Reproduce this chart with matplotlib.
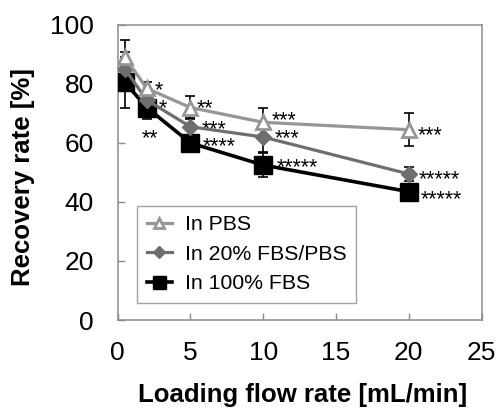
import numpy as np
import matplotlib
matplotlib.use('Agg')
from matplotlib import pyplot as plt

plt.rcParams['font.family'] = ['Liberation Sans', 'DejaVu Sans']

# flow rate [mL/min]
x = [0.5, 2, 5, 10, 20]

pbs = [89, 78.5, 72, 67, 64.5]
pbs_err = [6, 2, 4, 5, 5.5]
fbs20 = [85, 74.5, 65.5, 62, 49.5]
fbs20_err = [6, 3, 3, 5, 2.5]
fbs100 = [80.5, 72, 60, 52.5, 43.5]
fbs100_err = [8.5, 4, 2, 4, 1]

# significance marks: (text, x, y)
stars = [
    ("*", 2.56, 80), ("*", 2.84, 73.9), ("**", 1.67, 63.7),
    ("**", 5.45, 74), ("***", 5.74, 67), ("****", 5.87, 61),
    ("***", 10.6, 70), ("***", 10.76, 63.7), ("*****", 10.9, 54),
    ("***", 20.6, 64.7), ("*****", 20.7, 49.8), ("*****", 20.8, 43),
]

c_pbs = '#969696'
c_20 = '#6e6e6e'
c_100 = 'black'
spine_c = '#8c8c8c'

fig = plt.figure(figsize=[5, 4.09], dpi=100)
ax = fig.add_axes([0.2354, 0.2176, 0.7276, 0.7214])

for t, sx, sy in stars:
    ax.text(sx, sy - 4.2, t, fontsize=15.5, ha='left', va='baseline', zorder=1)

ax.errorbar(x, fbs100, yerr=fbs100_err, fmt='none', ecolor='black',
            elinewidth=1.2, capsize=3.5, capthick=1.2, zorder=2)
ax.errorbar(x, fbs20, yerr=fbs20_err, fmt='none', ecolor='black',
            elinewidth=1.2, capsize=3.5, capthick=1.2, zorder=2)
ax.errorbar(x, pbs, yerr=pbs_err, fmt='none', ecolor='black',
            elinewidth=1.2, capsize=3.5, capthick=1.2, zorder=2)

l100, = ax.plot(x, fbs100, color=c_100, lw=2.6, marker='s', ms=13,
                mfc=c_100, mec=c_100, label='In 100% FBS', zorder=3)
l20, = ax.plot(x, fbs20, color=c_20, lw=2.3, marker='D', ms=7.8,
               mfc=c_20, mec=c_20, label='In 20% FBS/PBS', zorder=4)
lpbs, = ax.plot(x, pbs, color=c_pbs, lw=2.3, marker='^', ms=9.5,
                mfc='white', mec=c_pbs, mew=2, label='In PBS', zorder=5)

ax.set_xlim(0, 25)
ax.set_ylim(0, 100)
ax.set_xticks([0, 5, 10, 15, 20, 25])
ax.set_yticks([0, 20, 40, 60, 80, 100])
ax.tick_params(direction='in', length=5, width=1, color=spine_c,
               labelsize=19)
ax.tick_params(axis='y', pad=17)
ax.tick_params(axis='x', pad=15)
for s in ax.spines.values():
    s.set_color(spine_c)
    s.set_linewidth(1.1)

fig.text(0.046, 1 - 177.5 / 409, 'Recovery rate [%]', rotation=90,
         fontsize=18.5, fontweight='bold', ha='center', va='center')
fig.text(302.5 / 500, 1 - 395 / 409, 'Loading flow rate [mL/min]',
         fontsize=18.5, fontweight='bold', ha='center', va='center')

leg = ax.legend(handles=[lpbs, l20, l100], loc='lower left',
                bbox_to_anchor=(0.053, 0.058), borderaxespad=0,
                fontsize=15.3, frameon=True, fancybox=False,
                edgecolor=spine_c, markerscale=0.72, handlelength=1.2,
                handletextpad=0.6, labelspacing=0.5, borderpad=0.45)
leg.get_frame().set_linewidth(1.0)

fig.savefig('out.png', dpi=100)
